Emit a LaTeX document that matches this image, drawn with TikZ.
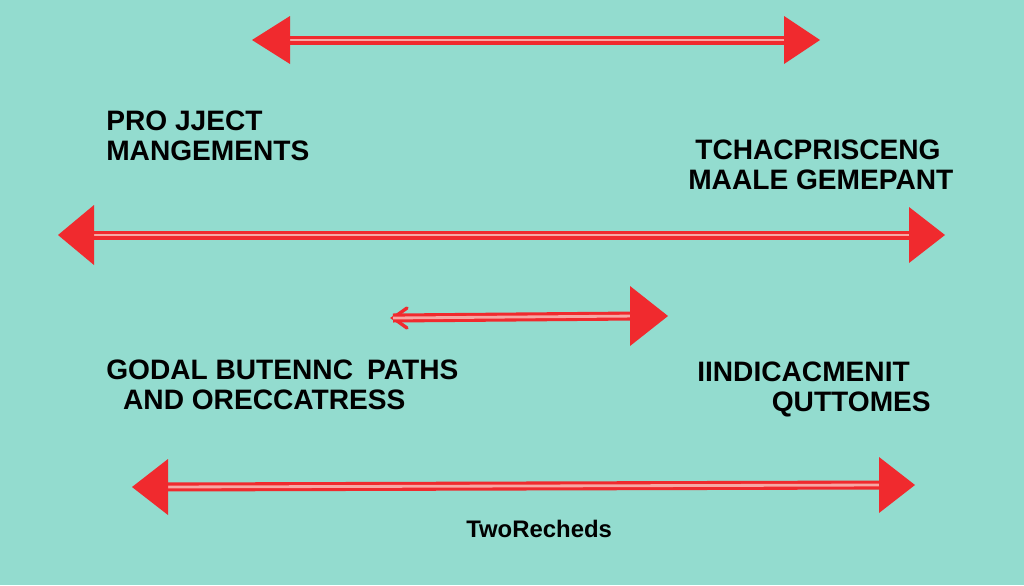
\documentclass[tikz,border=0pt]{standalone}
\usepackage{fontspec}
\setmainfont{Liberation Sans}
\usetikzlibrary{calc}
\definecolor{bg}{HTML}{93DCCF}
\definecolor{arrowred}{HTML}{F02A2E}
\definecolor{arrowpink}{HTML}{F7A7A4}
\tikzset{
  shaft/.style={draw=arrowred, line width=2.2pt, double=arrowpink, double distance=2pt},
  headfill/.style={fill=arrowred},
  label/.style={font=\bfseries\fontsize{20}{23}\selectfont, align=left, text=black, inner sep=0pt}
}
\newcommand{\lefthead}[3]{\fill[headfill] (#1) -- ($(#1)+(#2,#3)$) -- ($(#1)+(#2,-#3)$) -- cycle;}
\newcommand{\righthead}[3]{\fill[headfill] (#1) -- ($(#1)+(-#2,#3)$) -- ($(#1)+(-#2,-#3)$) -- cycle;}
\begin{document}
\begin{tikzpicture}[x=0.025cm, y=-0.025cm]
  \fill[bg] (0,0) rectangle (1024,585);
  \useasboundingbox (0,0) rectangle (1024,585);

  % top arrow
  \coordinate (a1) at (252,40);
  \coordinate (b1) at (820,40);
  \draw[shaft] ($(a1)+(30,0)$) -- ($(b1)+(-30,0)$);
  \lefthead{a1}{38}{24}
  \righthead{b1}{36}{24}

  % second arrow
  \coordinate (a2) at (58,235);
  \coordinate (b2) at (945,235);
  \draw[shaft] ($(a2)+(30,0)$) -- ($(b2)+(-30,0)$);
  \lefthead{a2}{36}{30}
  \righthead{b2}{36}{28}

  % short arrow
  \coordinate (a3) at (393,318);
  \coordinate (b3) at (668,316);
  \draw[arrowred, line width=2.4pt, line cap=round] ($(a3)+(14,-10)$) -- (a3) -- ($(a3)+(14,10)$);
  \draw[shaft] (a3) -- ($(b3)+(-30,0)$);
  \righthead{b3}{38}{30}

  % bottom arrow
  \coordinate (a4) at (132,487);
  \coordinate (b4) at (915,485);
  \draw[shaft] ($(a4)+(30,0)$) -- ($(b4)+(-30,0)$);
  \lefthead{a4}{36}{28}
  \righthead{b4}{36}{28}

  \node[label, anchor=north west] (pm) at (106,111) {PRO JJECT\\[-2pt]MANGEMENTS};
  \node[label, anchor=north west] (tm) at (688,140) {\hspace*{5pt}TCHACPRISCENG\\[-2pt]MAALE GEMEPANT};
  \node[label, anchor=north west] (gb) at (106,360) {GODAL BUTENNC\enspace PATHS\\[-2pt]\hspace*{12pt}AND ORECCATRESS};
  \node[label, anchor=north west] (io) at (697,362) {IINDICACMENIT\\[-2pt]\hspace*{53pt}QUTTOMES};
  \node[label, font=\bfseries\fontsize{17}{20}\selectfont, anchor=north west] (tr) at (466,520) {TwoRecheds};
\end{tikzpicture}
\end{document}
